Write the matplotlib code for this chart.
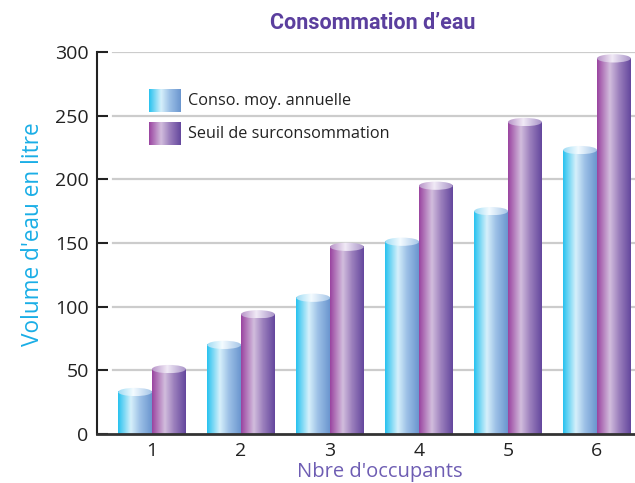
import numpy as np
import matplotlib
matplotlib.use("Agg")
import matplotlib.pyplot as plt
from matplotlib.patches import Ellipse
from matplotlib.colors import to_rgb

# ---- data ----
categories = ["1", "2", "3", "4", "5", "6"]
conso_moy = [33, 70, 107, 151, 175, 223]
seuil = [51, 94, 147, 195, 245, 295]
series_labels = ["Conso. moy. annuelle", "Seuil de surconsommation"]
yticks = [0, 50, 100, 150, 200, 250, 300]

# ---- style ----
cyan_stops = [(0.0, "#27c2ef"), (0.38, "#d6f0fb"), (0.65, "#9cc0e6"), (1.0, "#6b96cf")]
purple_stops = [(0.0, "#9a44a0"), (0.38, "#d2bddd"), (0.65, "#9c80bd"), (1.0, "#64479d")]
cyan_top = [(0.0, "#9fdcf4"), (0.45, "#f4fbff"), (1.0, "#a6c6e8")]
purple_top = [(0.0, "#b894c8"), (0.45, "#f1eaf6"), (1.0, "#a893c8")]

def gradient(stops, n=128):
    xs = np.linspace(0, 1, n)
    pos = [s[0] for s in stops]
    cols = np.array([to_rgb(s[1]) for s in stops])
    out = np.stack([np.interp(xs, pos, cols[:, k]) for k in range(3)], axis=-1)
    return out[np.newaxis, :, :]

fig = plt.figure(figsize=(6.35, 4.83), dpi=100)
ax = fig.add_axes([97 / 635, 1 - 434 / 483, 1 - 97 / 635, (434 - 52) / 483])

x = np.arange(1, len(categories) + 1)
bw = 0.38
ell_h = 6.5

def cylinder(xc, h, body, top, z):
    x0, x1 = xc - bw / 2, xc + bw / 2
    ax.imshow(gradient(body), extent=[x0, x1, 0, h], aspect="auto",
              zorder=z, interpolation="bilinear")
    im = ax.imshow(gradient(top), extent=[x0, x1, h - ell_h / 2, h + ell_h / 2],
                   aspect="auto", zorder=z + 0.1, interpolation="bilinear")
    e = Ellipse((xc, h), bw, ell_h, transform=ax.transData)
    im.set_clip_path(e)
    im.set_clip_box(None)

for i in range(len(categories)):
    cylinder(x[i] - bw / 2, conso_moy[i], cyan_stops, cyan_top, 3 + i)
    cylinder(x[i] + bw / 2, seuil[i], purple_stops, purple_top, 3.3 + i)

ax.set_xlim(0.382, 6.427)
ax.set_ylim(0, 300)
ax.set_aspect("auto")

ax.set_yticks(yticks)
ax.set_yticklabels([str(v) for v in yticks], fontsize=14, family="Open Sans", color="#222222")
ax.set_xticks(x + 0.0)
ax.set_xticklabels(categories, fontsize=14, family="Open Sans", color="#222222")
ax.tick_params(axis="y", direction="in", length=8, width=1.5, color="#222222", pad=6)
ax.tick_params(axis="x", length=0, pad=6)

for v in yticks[1:]:
    ax.axhline(v, color="#cccccc", lw=1.6, zorder=1, xmin=0.03)

for s in ["top", "right"]:
    ax.spines[s].set_visible(False)
ax.spines["left"].set_linewidth(1.5)
ax.spines["left"].set_color("#222222")
ax.spines["bottom"].set_linewidth(2)
ax.spines["bottom"].set_color("#333333")
ax.spines["bottom"].set_zorder(20)

fig.text(373 / 635, 1 - 23 / 483, "Consommation d\u2019eau", ha="center", va="center",
         fontsize=15.5, fontweight="bold", color="#5b3f9e", family="Roboto")
fig.text(380 / 635, 1 - 472 / 483, "Nbre d'occupants", ha="center", va="center",
         fontsize=14.5, color="#6e5db3", family="Open Sans")
fig.text(33 / 635, 1 - 234 / 483, "Volume d'eau en litre", ha="center", va="center",
         rotation=90, fontsize=16.3, color="#1aaee6", family="Open Sans")

# legend
for j, (lab, st) in enumerate(zip(series_labels, [cyan_stops, purple_stops])):
    y_top = 89 + j * 33
    lax = fig.add_axes([149 / 635, 1 - (y_top + 23) / 483, 32 / 635, 23 / 483])
    lax.imshow(gradient(st), aspect="auto", extent=[0, 1, 0, 1], interpolation="bilinear")
    lax.set_axis_off()
    fig.text(188 / 635, 1 - (y_top + 12) / 483, lab, ha="left", va="center",
             fontsize=11.7, color="#222222", family="Open Sans")

fig.savefig("out.png", dpi=100)
